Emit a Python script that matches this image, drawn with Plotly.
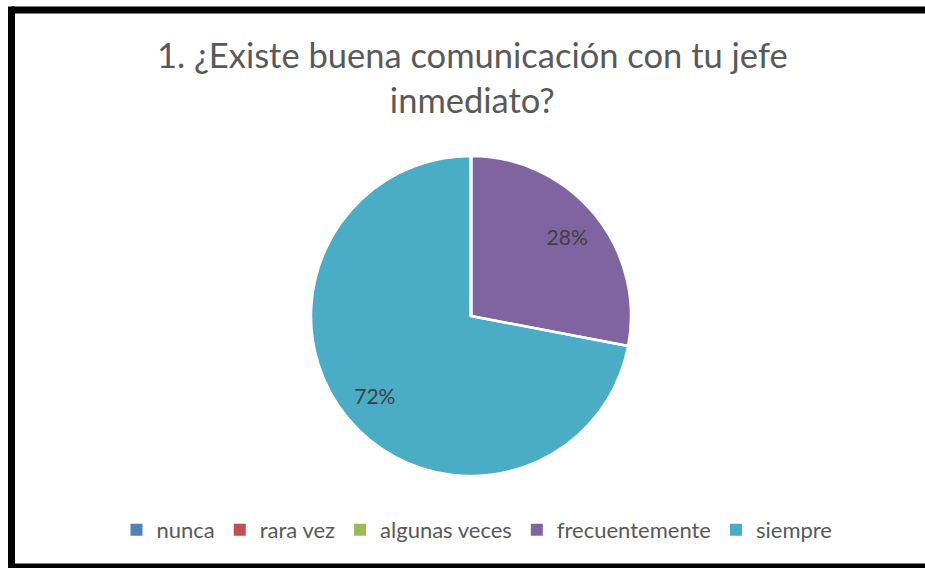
import plotly.graph_objects as go

categories = ["nunca", "rara vez", "algunas veces", "frecuentemente", "siempre"]
values = [0, 0, 0, 28, 72]
colors = ["#4F81BD", "#C0504D", "#9BBB59", "#8064A2", "#4BACC6"]
title_text = "1. ¿Existe buena comunicación con tu jefe<br>inmediato?"

W, H = 925, 568
total = sum(values)
texts = [f"{v / total * 100:.0f}%" if v > 0 else "" for v in values]


def px_x(p):
    return p / W


def px_y(p):
    return 1 - p / H


cx, cy, R = 471, 316, 160
HOLE = 0.56
r_in = R * HOLE + 3

outer_dom = dict(x=[px_x(cx - R), px_x(cx + R)], y=[px_y(cy + R), px_y(cy - R)])
inner_dom = dict(x=[px_x(cx - r_in), px_x(cx + r_in)], y=[px_y(cy + r_in), px_y(cy - r_in)])

common = dict(labels=categories, values=values, sort=False,
              direction="clockwise", rotation=0)

fig = go.Figure()
fig.add_trace(go.Pie(
    **common,
    hole=HOLE,
    text=texts,
    textinfo="text",
    textposition="inside",
    insidetextorientation="horizontal",
    marker=dict(colors=colors, line=dict(width=0)),
    textfont=dict(family="Lato", size=21, color="#404040"),
    domain=outer_dom,
    hoverinfo="label+percent",
))
fig.add_trace(go.Pie(
    **common,
    textinfo="none",
    marker=dict(colors=colors, line=dict(width=0)),
    domain=inner_dom,
    showlegend=False,
    hoverinfo="skip",
))
fig.add_trace(go.Pie(
    **common,
    textinfo="none",
    marker=dict(colors=["rgba(0,0,0,0)"] * len(values), line=dict(color="white", width=2.5)),
    domain=outer_dom,
    showlegend=False,
    hoverinfo="skip",
))

BW = 7
left_x, top_y, bottom_y = 11.5, 10, 567
border = dict(type="line", xref="paper", yref="paper", line=dict(color="black", width=BW))
shapes = [
    dict(border, x0=px_x(left_x), x1=px_x(left_x), y0=px_y(bottom_y + BW / 2), y1=px_y(top_y - BW / 2)),
    dict(border, x0=px_x(left_x), x1=px_x(W), y0=px_y(top_y), y1=px_y(top_y)),
    dict(border, x0=px_x(left_x), x1=px_x(W), y0=px_y(bottom_y), y1=px_y(bottom_y)),
]

fig.update_layout(
    width=W, height=H,
    margin=dict(l=0, r=0, t=0, b=0),
    paper_bgcolor="white",
    plot_bgcolor="white",
    font=dict(family="Lato", color="#595959"),
    annotations=[dict(
        text=title_text,
        xref="paper", yref="paper",
        x=px_x(472), xanchor="center",
        y=px_y(77), yanchor="middle",
        showarrow=False,
        font=dict(family="Lato", size=34.5, color="#595959"),
    )],
    legend=dict(
        orientation="h",
        x=px_x(477), xanchor="center",
        y=px_y(530), yanchor="middle",
        font=dict(family="Lato", size=22, color="#595959"),
        itemwidth=30,
    ),
    shapes=shapes,
)

fig.write_html(
    "out.html",
    config={"displayModeBar": False},
    post_script=(
        "document.body.style.margin='0';"
        "document.body.style.overflow='hidden';"
        "document.documentElement.style.overflow='hidden';"
    ),
)
